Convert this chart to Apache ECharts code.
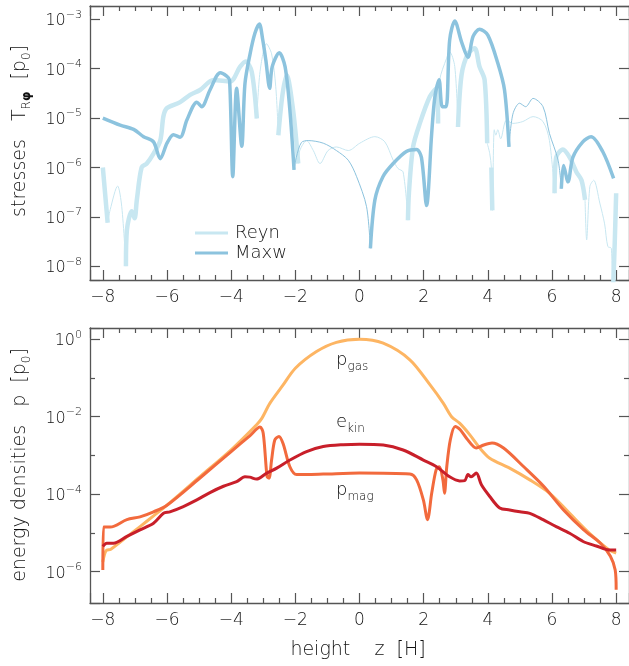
<!DOCTYPE html>
<html><head><meta charset="utf-8">
<script src="https://cdn.jsdelivr.net/npm/echarts@6/dist/echarts.min.js"></script>
<style>html,body{margin:0;padding:0;background:#fff}#c{width:629px;height:666px}</style>
</head><body><div id="c"></div><script>
// ---------- top panel: stresses (signed; negative drawn thin as |value|) ----------
const zReyn = [-8.00,-7.85,-7.77,-7.54,-7.41,-7.28,-7.25,-7.10,-7.01,-6.94,-6.79,-6.63,-6.42,-6.21,-6.11,-6.00,-5.59,-5.28,-4.97,-4.55,-4.03,-3.72,-3.55,-3.36,-3.20,-3.10,-2.90,-2.74,-2.61,-2.53,-2.40,-2.27,-2.07,-1.91,-1.86,-1.65,-1.44,-1.23,-0.98,-0.72,-0.35,0.01,0.48,0.79,1.05,1.20,1.36,1.51,1.54,1.67,1.88,2.19,2.40,2.45,2.50,2.71,2.81,2.97,3.07,3.18,3.38,3.59,3.74,3.90,3.98,4.06,4.11,4.14,4.20,4.25,4.31,4.40,4.58,4.78,5.09,5.41,5.72,5.92,6.08,6.13,6.34,6.55,6.76,6.92,7.03,7.08,7.18,7.30,7.49,7.64,7.74,7.85,7.88,7.92,8.00];
const reyn = [1.0e-6,7.6e-8,-1.4e-7,-4.2e-7,-1.6e-7,1.0e-8,5.4e-8,1.3e-7,9.3e-8,2.2e-7,1.0e-6,1.2e-6,1.9e-6,3.5e-6,1.1e-5,1.6e-5,2.1e-5,2.95e-5,3.7e-5,5.9e-5,5.5e-5,1.1e-4,1.4e-4,8.7e-5,9.8e-6,-8.7e-5,-3.2e-4,-2.0e-4,-4.3e-5,4.5e-6,3.0e-5,7.4e-5,1.45e-5,1.2e-6,-2.2e-6,-3.5e-6,-2.2e-6,-1.2e-6,-2.2e-6,-2.6e-6,-2.2e-6,-3.1e-6,-4.2e-6,-3.3e-6,-1.4e-6,-9.5e-7,-8.1e-7,8.5e-8,3.0e-7,2.6e-6,7.8e-6,2.7e-5,4.0e-5,7.8e-6,-5.9e-5,-1.6e-4,-2.2e-4,-1.1e-4,6.6e-6,7.4e-5,2.0e-4,2.6e-4,1.1e-4,5.9e-5,3.1e-6,-1.9e-6,1.0e-6,1.35e-7,-5.8e-6,-4.5e-6,-5.8e-6,-3.8e-6,-9.1e-6,-7.8e-6,-8.5e-6,-1.07e-5,-8.5e-6,-3.5e-6,3.0e-7,1.6e-6,2.3e-6,1.6e-6,8.1e-7,5.5e-7,2.2e-7,-3.4e-8,-4.1e-7,-5.5e-7,-1.9e-7,-7.2e-8,-2.5e-8,-2.3e-8,3.0e-9,6.0e-9,3.0e-7];
const zMaxw = [-8.00,-7.46,-7.04,-6.73,-6.42,-6.21,-6.00,-5.80,-5.59,-5.38,-5.07,-4.92,-4.66,-4.34,-4.14,-4.05,-3.95,-3.83,-3.67,-3.57,-3.41,-3.26,-3.12,-3.02,-2.92,-2.80,-2.72,-2.50,-2.32,-2.17,-2.04,-1.97,-1.81,-1.60,-1.13,-0.72,-0.35,-0.09,0.22,0.34,0.48,0.73,1.05,1.46,1.78,1.93,2.09,2.25,2.35,2.48,2.58,2.70,2.81,2.97,3.18,3.38,3.54,3.74,4.00,4.31,4.52,4.66,4.78,4.99,5.18,5.41,5.72,5.92,6.19,6.29,6.36,6.50,6.65,6.96,7.22,7.58,7.92];
const maxw = [1.0e-5,7.2e-6,5.9e-6,4.2e-6,3.3e-6,1.5e-6,3.1e-6,4.6e-6,4.1e-6,9.1e-6,2.1e-5,1.7e-5,3.7e-5,8.3e-5,7.1e-5,5.9e-5,6.5e-7,4.0e-5,2.7e-6,5.0e-5,2.0e-4,5.2e-4,8.0e-4,4.0e-4,1.5e-4,4.0e-5,1.1e-4,2.1e-4,1.1e-4,1.45e-5,8.9e-7,-1.6e-6,-3.2e-6,-3.5e-6,-3.1e-6,-2.2e-6,-1.4e-6,-6.5e-7,-1.6e-7,2.3e-8,2.2e-7,6.5e-7,1.2e-6,2.1e-6,2.3e-6,1.6e-6,1.7e-7,4.9e-6,2.7e-5,6.0e-5,1.7e-5,1.7e-5,3.8e-4,9.3e-4,3.5e-4,1.7e-4,4.5e-4,6.3e-4,4.8e-4,1.3e-4,3.7e-5,2.6e-6,-1.2e-5,-2.0e-5,-1.7e-5,-2.5e-5,-1.7e-5,-4.9e-6,-1.4e-6,3.7e-7,1.1e-6,5.1e-7,1.6e-6,3.3e-6,4.2e-6,2.1e-6,6.0e-7];

// ---------- bottom panel: energy densities ----------
const zGas = [-8.00,-7.90,-7.75,-7.25,-6.84,-6.42,-6.00,-5.00,-4.00,-3.20,-3.05,-2.79,-2.38,-2.00,-1.34,-0.72,0.00,0.74,1.57,2.20,2.61,2.87,3.12,3.44,3.75,4.06,4.68,5.31,5.93,6.55,7.17,7.79,8.00];
const pGas = [1.78e-6,3.47e-6,3.8e-6,7.9e-6,1.45e-5,2.75e-5,5.2e-5,2.7e-4,1.4e-3,6.3e-3,8.9e-3,2.24e-2,6.6e-2,0.178,0.48,0.83,1.0,0.79,0.295,6.6e-2,2.24e-2,1.0e-2,6.8e-3,3.4e-3,1.55e-3,8.5e-4,4.7e-4,2.34e-4,1.05e-4,3.2e-5,9.8e-6,3.6e-6,3.0e-6];
const zMag = [-8.00,-7.98,-7.77,-7.25,-6.84,-6.42,-6.00,-5.00,-4.00,-3.42,-3.10,-3.00,-2.88,-2.82,-2.74,-2.64,-2.51,-2.38,-2.17,-1.96,-1.13,0.00,1.57,1.78,1.99,2.12,2.25,2.39,2.49,2.60,2.65,2.72,2.83,2.98,3.14,3.34,3.64,3.87,4.13,4.49,5.12,5.74,6.36,6.99,7.51,7.82,7.97,8.00];
const pMag = [1.1e-6,1.41e-5,1.41e-5,2.2e-5,2.6e-5,3.5e-5,5.2e-5,2.5e-4,1.26e-3,3.2e-3,5.4e-3,3.7e-3,2.8e-4,2.6e-4,7.6e-4,2.5e-3,3.1e-3,2.0e-3,5.1e-4,3.2e-4,3.3e-4,3.5e-4,3.3e-4,2.34e-4,7.1e-5,2.2e-5,1.05e-4,4.3e-4,5.1e-4,2.34e-4,1.05e-4,5.1e-4,2.5e-3,5.6e-3,4.6e-3,2.75e-3,1.55e-3,1.86e-3,2.1e-3,1.55e-3,5.1e-4,1.6e-4,3.9e-5,1.2e-5,5.4e-6,2.5e-6,1.1e-6,3.4e-7];
const zKin = [-8.00,-7.88,-7.67,-7.25,-6.84,-6.42,-6.11,-5.91,-5.49,-5.07,-4.66,-4.24,-3.83,-3.57,-3.42,-3.21,-2.89,-2.58,-2.17,-1.65,-1.13,-0.51,0.00,0.74,1.36,1.99,2.40,2.81,3.12,3.28,3.38,3.48,3.64,3.80,4.06,4.37,4.68,5.00,5.31,5.72,6.13,6.55,6.97,7.38,7.79,8.00];
const eKin = [4.5e-6,5.4e-6,5.4e-6,8.1e-6,1.2e-5,1.78e-5,3.2e-5,3.5e-5,4.8e-5,7.1e-5,1.1e-4,1.6e-4,2.1e-4,2.8e-4,2.75e-4,2.45e-4,3.5e-4,4.7e-4,7.6e-4,1.26e-3,1.7e-3,1.9e-3,1.95e-3,1.86e-3,1.38e-3,7.6e-4,5.1e-4,2.8e-4,2.2e-4,2.24e-4,3.2e-4,2.8e-4,3.5e-4,1.74e-4,8.7e-5,4.4e-5,3.9e-5,3.5e-5,3.2e-5,2.2e-5,1.45e-5,9.8e-6,6.0e-6,4.6e-6,3.6e-6,3.6e-6];

const xTicks = [-8,-6,-4,-2,0,2,4,6,8];

// ---------- helpers ----------
const FONT = 'DejaVu Sans';
const FW = 200;
const TXT = '#111';
const AX = '#555';
function splitSigned(z, v){
  const thick=[], thin=[];
  for(let i=0;i<v.length;i++){
    thick.push([z[i], v[i]>0 ? Math.log10(v[i]) : '-']);
    const nb = (i>0 && v[i-1]<0) || (i<v.length-1 && v[i+1]<0);
    thin.push([z[i], v[i]<0 ? Math.log10(-v[i]) : (nb ? Math.log10(v[i]) : '-')]);
  }
  return {thick, thin};
}
function logPairs(z, v){ return z.map((x,i)=>[x, Math.log10(v[i])]); }
const minus = s => String(s).replace('-', '\u2212');
function xAxis(grid, pos, labels){
  return {type:'value', gridIndex:grid, position:pos, min:-8.4, max:8.4, minInterval:2, maxInterval:2, splitNumber:8,
    axisLine:{show:true,onZero:false,lineStyle:{color:AX,width:1.3}},
    axisTick:{show:true,inside:true,length:10,lineStyle:{color:AX,width:1.2}},
    minorTick:{show:true,splitNumber:4,length:5,lineStyle:{color:AX,width:1.2}},
    splitLine:{show:false}, minorSplitLine:{show:false},
    axisLabel:{show:labels, margin:9, color:TXT, fontSize:17, fontFamily:FONT, fontWeight:FW,
      formatter:v=> xTicks.some(t=>Math.abs(t-v)<1e-6) ? minus(Math.round(v)) : ''}};
}
const yRich = {b:{fontSize:16,fontFamily:FONT,fontWeight:FW,color:TXT,lineHeight:20,verticalAlign:'bottom'},
               s:{fontSize:11,fontFamily:FONT,fontWeight:FW,color:TXT,verticalAlign:'top'}};
function yAxis(grid, pos, labels, mn, mx, step, minor){
  return {type:'value', gridIndex:grid, position:pos, min:mn, max:mx, minInterval:step, maxInterval:step,
    axisLine:{show:true,onZero:false,lineStyle:{color:AX,width:1.3}},
    axisTick:{show:true,inside:true,length:10,lineStyle:{color:AX,width:1.2}},
    minorTick:{show:minor,splitNumber:2,length:5,lineStyle:{color:AX,width:1.2}},
    splitLine:{show:false}, minorSplitLine:{show:false},
    axisLabel:{show:labels, margin:8, rich:yRich,
      formatter:v=>{ const r=Math.round(v); return (Math.abs(v-r)<1e-6 && r%step===0) ? '{b|10}{s|'+minus(r)+'}' : ''; }}};
}

const topS = splitSigned(zReyn, reyn), topM = splitSigned(zMaxw, maxw);
const C_REYN = '#c8e7f1', C_MAXW = '#8cc3de';
const C_GAS = '#fdb563', C_MAG = '#f26a3d', C_KIN = '#c81f2a';
function line(name, data, color, width, xi, yi, z){
  return {type:'line', name, data, xAxisIndex:xi, yAxisIndex:yi, showSymbol:false, symbol:'none',
    smooth:0.3, connectNulls:false, clip:true, z:z||2,
    lineStyle:{color, width, cap:'butt', join:'round'}, itemStyle:{color}};
}
const tRich = (fs, sub) => ({n:{fontSize:fs,fontFamily:FONT,fontWeight:FW,fill:TXT,color:TXT,lineHeight:fs+3,verticalAlign:'top'},
  d:{fontSize:sub,fontFamily:FONT,fontWeight:FW,fill:TXT,color:TXT,verticalAlign:'bottom'},
  db:{fontSize:sub,fontFamily:FONT,fontWeight:'bold',fill:TXT,color:TXT,verticalAlign:'bottom'}});

const chart = echarts.init(document.getElementById('c'), null, {renderer:'canvas'});
chart.setOption({
  animation:false, backgroundColor:'#fff',
  grid:[{left:90, right:0, top:6, height:274, outerBoundsMode:'none'},
        {left:90, right:0, top:328, height:275, outerBoundsMode:'none'}],
  xAxis:[xAxis(0,'bottom',true), xAxis(0,'top',false), xAxis(1,'bottom',true), xAxis(1,'top',false)],
  yAxis:[yAxis(0,'left',true,-8.28,-2.73,1,false), yAxis(0,'right',false,-8.28,-2.73,1,false),
         yAxis(1,'left',true,-6.81,0.29,2,true), yAxis(1,'right',false,-6.81,0.29,2,true)],
  legend:{left:190, top:219, orient:'vertical', itemWidth:33, itemHeight:3, itemGap:2, icon:'rect',
    data:['Reyn','Maxw'], textStyle:{color:TXT, fontSize:18, fontFamily:FONT, fontWeight:FW, padding:[0,0,0,2]}},
  series:[
    line('Reyn-', topS.thin, C_REYN, 1, 0, 0, 2),
    line('Reyn', topS.thick, C_REYN, 4.5, 0, 0, 3),
    line('Maxw-', topM.thin, C_MAXW, 1, 0, 0, 4),
    line('Maxw', topM.thick, C_MAXW, 3.5, 0, 0, 5),
    line('pgas', logPairs(zGas,pGas), C_GAS, 3, 2, 2, 2),
    line('pmag', logPairs(zMag,pMag), C_MAG, 3, 2, 2, 3),
    line('ekin', logPairs(zKin,eKin), C_KIN, 3, 2, 2, 4)
  ],
  graphic:[
    {type:'text', x:22, y:131, rotation:Math.PI/2, style:{text:'{n|stresses   T}{d|R}{db|\u03C6}{n|  [p}{d|0}{n|]}', align:'center', verticalAlign:'middle', rich:tRich(19,12)}},
    {type:'text', x:22, y:465, rotation:Math.PI/2, style:{text:'{n|energy densities   p  [p}{d|0}{n|]}', align:'center', verticalAlign:'middle', rich:tRich(19,12)}},
    {type:'text', x:358, y:650, style:{text:'height    z  [H]', align:'center', verticalAlign:'middle', fontSize:19, fontFamily:FONT, fontWeight:FW, fill:TXT}},
    {type:'text', x:336, y:362, style:{text:'{n|p}{d|gas}', align:'left', verticalAlign:'middle', rich:tRich(18,12)}},
    {type:'text', x:336, y:424, style:{text:'{n|e}{d|kin}', align:'left', verticalAlign:'middle', rich:tRich(18,12)}},
    {type:'text', x:336, y:492, style:{text:'{n|p}{d|mag}', align:'left', verticalAlign:'middle', rich:tRich(18,12)}}
  ]
});
</script></body></html>
